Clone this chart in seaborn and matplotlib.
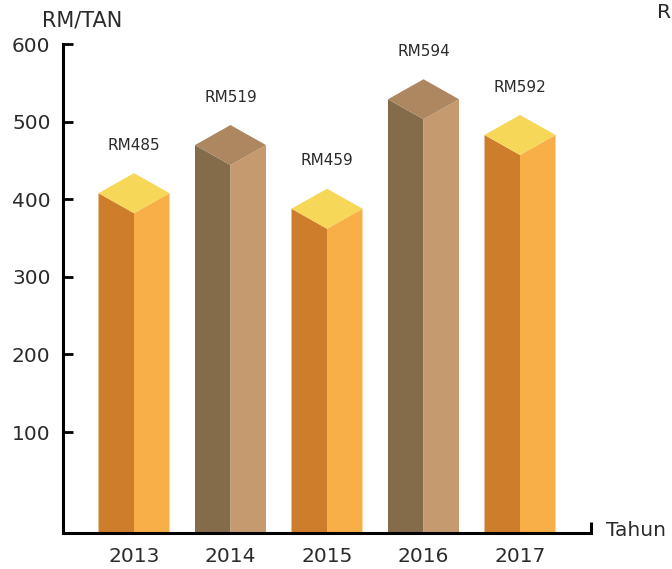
import matplotlib
matplotlib.use("Agg")
import matplotlib.pyplot as plt
import seaborn as sns

years = ["2013", "2014", "2015", "2016", "2017"]
prices = [485, 519, 459, 594, 592]
# the bars in the picture are not drawn to scale, so these are the
# heights of the front edge as read against the y axis
bar_heights = [382, 444, 362, 503, 457]
y_ticks = [100, 200, 300, 400, 500, 600]

orange = ("#CE7D2B", "#F9AF47", "#F6D757")
brown = ("#846B4A", "#C49A6E", "#AC8760")
palette = [orange, brown, orange, brown, orange]

sns.set_theme(style="white")
plt.rcParams["font.family"] = ["DejaVu Sans"]
text_col = "#2b2b2b"

fig = plt.figure(figsize=(6.72, 5.69), dpi=100)
ax = fig.add_axes([63 / 672, 36 / 569, 528 / 672, 489 / 569])

step = 96.5   # pixels between bars
y0 = -30
ax.set_ylim(y0, 600)
ax.set_xlim(-71 / step, -71 / step + 528 / step)

hw = 35.5 / step   # half bar width (x units)
dy = 25.8          # vertical drop of the top face sides (y units)

for i, (h, p) in enumerate(zip(bar_heights, prices)):
    left, right, top = palette[i]
    ax.fill([i - hw, i - hw, i, i], [y0, h + dy, h, y0], color=left, lw=0)
    ax.fill([i, i, i + hw, i + hw], [y0, h, h + dy, y0], color=right, lw=0)
    ax.fill([i - hw, i, i + hw, i], [h + dy, h, h + dy, h + 2 * dy], color=top, lw=0)
    ax.text(i, h + 2 * dy + 36, f"RM{p}", ha="center", va="center",
            fontsize=11, color=text_col)

ax.set_xticks(range(len(years)))
ax.set_xticklabels(years)
ax.set_yticks(y_ticks)
ax.tick_params(axis="x", length=0, pad=10, labelsize=14.5, labelcolor=text_col)
ax.tick_params(axis="y", direction="in", length=7, width=2, color="black",
               pad=9, labelsize=14.5, labelcolor=text_col, left=True)

sns.despine(ax=ax)
for side in ["left", "bottom"]:
    ax.spines[side].set_color("black")
    ax.spines[side].set_linewidth(2.2)

# small end mark at the right of the x axis
ax.plot([ax.get_xlim()[1]] * 2, [y0, y0 + 14], color="black", lw=2.2,
        clip_on=False, solid_capstyle="butt")

fig.text(82 / 672, 1 - 20 / 569, "RM/TAN", ha="center", va="center",
         fontsize=15, color=text_col)
fig.text(606 / 672, 1 - 530 / 569, "Tahun", ha="left", va="center",
         fontsize=14.5, color=text_col)
fig.text(671 / 672, 1 - 13 / 569, "R", ha="right", va="center",
         fontsize=14.5, color=text_col)

fig.savefig("out.png", dpi=100)
